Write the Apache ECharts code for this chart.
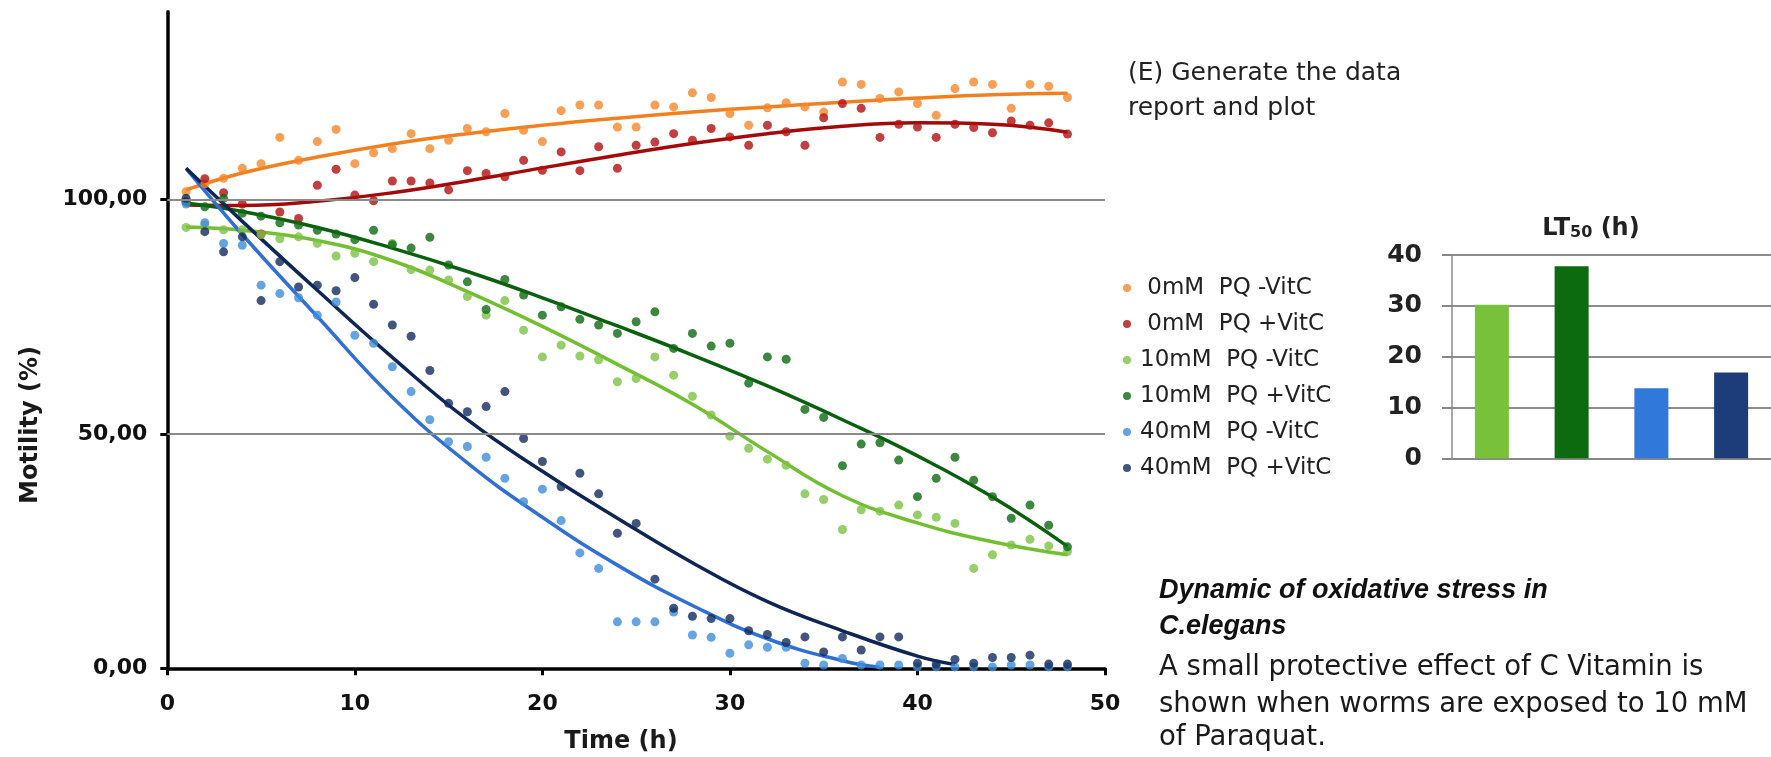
<!DOCTYPE html>
<html>
<head>
<meta charset="utf-8">
<script src="https://cdn.jsdelivr.net/npm/echarts@6/dist/echarts.min.js"></script>
<style>
html,body{margin:0;padding:0;background:#fff;}
#chart{width:1771px;height:757px;}
</style>
</head>
<body>
<div id="chart"></div>
<script>
// ---- data ----
const hours = [1,2,3,4,5,6,7,8,9,10,11,12,13,14,15,16,17,18,19,20,21,22,23,24,25,26,27,28,29,30,31,32,33,34,35,36,37,38,39,40,41,42,43,44,45,46,47,48];

const pq0Minus  = [101.6,103.3,104.5,106.6,107.6,113.2,108.3,112.3,114.9,107.6,109.9,110.8,114.0,110.8,112.6,115.1,114.4,118.3,114.7,112.3,118.9,120.1,120.1,115.4,115.4,120.1,119.7,122.7,121.7,118.3,115.8,119.5,120.6,119.7,118.6,125.0,124.5,121.5,122.9,120.4,117.9,123.6,125.0,124.5,119.4,124.5,124.1,121.7];
const pq0Plus   = [99.5,104.4,101.4,99.0,92.6,97.3,95.9,103.0,106.4,100.9,99.7,103.9,103.9,103.5,102.0,106.1,105.5,104.8,108.3,106.2,110.1,106.1,111.2,106.6,111.5,112.2,114.0,112.6,115.1,113.3,111.5,115.8,114.4,111.5,117.4,120.4,119.4,113.2,116.0,115.4,113.2,116.0,115.3,114.2,116.7,115.8,116.3,113.9];
const pq10Minus = [94.0,94.5,93.5,93.5,92.5,91.6,92.0,90.6,87.9,88.5,86.7,90.6,85.0,84.9,82.8,79.3,75.3,78.4,72.1,66.4,68.9,66.6,65.8,61.1,61.8,66.4,62.5,58.0,54.0,49.5,46.9,44.6,43.3,37.2,36.0,29.6,33.8,33.5,34.8,32.7,32.2,30.9,21.3,24.2,26.3,27.5,26.1,24.9];
const pq10Plus  = [99.5,98.4,100.2,97.0,96.4,95.0,94.5,93.4,92.6,91.4,93.4,90.3,89.6,91.9,86.0,82.4,76.5,82.9,79.6,75.3,77.1,74.4,73.2,71.4,73.9,76.0,68.2,71.4,68.7,69.3,60.8,66.4,65.9,55.2,53.5,43.2,47.8,48.1,44.4,36.6,40.5,45.0,40.1,36.6,32.0,34.8,30.5,25.9];
const pq40Minus = [99.0,95.0,90.6,90.2,81.7,79.9,79.0,75.3,78.1,71.0,69.3,64.3,59.0,53.0,48.3,47.3,45.0,40.5,35.5,38.2,31.5,24.6,21.3,9.9,9.9,9.9,12.0,7.1,6.6,3.2,5.0,4.5,4.5,1.1,0.7,2.1,0.7,0.7,0.7,0.3,0.3,0.3,0.3,0.3,0.7,0.7,0.3,0.3];
const pq40Plus  = [100.2,93.1,88.8,92.0,78.4,86.7,81.3,81.7,80.5,83.3,77.6,73.2,70.8,63.5,56.5,54.7,55.8,59.0,49.0,44.1,38.7,41.6,37.2,28.8,30.9,19.0,12.8,11.1,10.6,10.6,8.0,7.2,5.5,6.7,3.5,6.7,3.9,6.7,6.7,1.1,0.9,1.9,1.1,2.3,2.3,2.8,0.9,0.9];

// trend lines
const trendHours        = [1,4,8,12,16,20,24,28,32,36,40,44,48];
const trend0Minus       = [102.0,105.6,109.0,111.8,114.0,115.8,117.3,118.6,119.7,120.7,121.6,122.3,122.6];
const trend0Plus        = [98.8,98.7,99.6,101.4,103.9,106.7,109.4,111.9,114.0,115.6,116.3,116.0,114.3];
const trend10Minus      = [94.1,93.4,91.2,86.9,80.3,72.9,64.8,56.3,46.2,36.8,31.0,27.0,24.2];
const trend10Plus       = [99.2,97.4,94.0,89.6,84.6,79.0,73.0,66.8,60.2,53.0,45.3,36.5,26.0];
const trendHours40Minus = [1,4,8,12,16,20,24,28,32,36,38];
const trend40Minus      = [106.6,92.5,75.0,57.8,43.8,32.2,22.0,13.4,6.3,1.6,0.2];
const trendHours40Plus  = [1,4,8,12,16,20,24,28,32,36,40,42];
const trend40Plus       = [106.6,95.3,80.6,66.3,53.0,42.0,32.0,22.5,14.2,8.0,2.6,0.8];

const seriesNames = [' 0mM  PQ -VitC',' 0mM  PQ +VitC','10mM  PQ -VitC','10mM  PQ +VitC','40mM  PQ -VitC','40mM  PQ +VitC'];
const yTicks = [0, 50, 100];
const gridValues = [50, 100];

// LT50 bar chart
const ltCategories = ['10mM PQ -VitC','10mM PQ +VitC','40mM PQ -VitC','40mM PQ +VitC'];
const lt50Values = [30.2, 37.8, 13.8, 16.9];

// ---- styling ----
const dotColors  = ['#f5872a','#b30f0f','#7cc243','#0d6a12','#3f8ddb','#112b5e'];
const lineColors = ['#f2801f','#a50a0a','#72bf2f','#0a600d','#2f6fd6','#0e2656'];
const barColors  = ['#78c23b','#0b6b0e','#3079db','#1c3d7a'];
const FONT = 'DejaVu Sans';
const ARIAL = 'Liberation Sans';

function pairs(xs, ys){ return xs.map((x,i)=>[x, ys[i]]); }

const dotSets = [pq0Minus,pq0Plus,pq10Minus,pq10Plus,pq40Minus,pq40Plus];
const trendSets = [
  [trendHours,trend0Minus],[trendHours,trend0Plus],[trendHours,trend10Minus],
  [trendHours,trend10Plus],[trendHours40Minus,trend40Minus],[trendHours40Plus,trend40Plus]
];

const series = [];
series.push({
  type:'line', name:'grid', xAxisIndex:0, yAxisIndex:0, data:[], silent:true, z:1,
  markLine:{ silent:true, symbol:['none','none'], label:{show:false},
    lineStyle:{color:'#8a8a8a', width:2, type:'solid'},
    data: gridValues.map(v=>({yAxis:v})) }
});
trendSets.forEach((ts,i)=>{
  series.push({
    type:'line', name:'trend'+i, xAxisIndex:0, yAxisIndex:0,
    data: pairs(ts[0], ts[1]), smooth:0.45, showSymbol:false, symbol:'none',
    lineStyle:{color:lineColors[i], width:3.5}, z:2, silent:true, clip:true
  });
});
dotSets.forEach((d,i)=>{
  series.push({
    type:'scatter', name:seriesNames[i], xAxisIndex:0, yAxisIndex:0,
    data: pairs(hours, d), symbol:'circle', symbolSize:9,
    itemStyle:{color:dotColors[i]}, z:3
  });
});
series.push({
  type:'bar', name:'LT50', xAxisIndex:1, yAxisIndex:1, data: lt50Values, barWidth:34,
  itemStyle:{ color: p => barColors[p.dataIndex] }
});

function txt(x, y, text, size, extra){
  return Object.assign({type:'text', x:x, y:y,
    style:Object.assign({text:text, fontFamily:FONT, fontSize:size, fill:'#1a1a1a',
      align:'left', verticalAlign:'middle', textAlign:'left', textVerticalAlign:'middle'}, extra || {})});
}

const option = {
  animation:false,
  backgroundColor:'#ffffff',
  grid:[
    {left:167.3, top:11.7, right:666, bottom:88.7},
    {left:1452, top:255, right:-9, bottom:298.7}
  ],
  xAxis:[
    {type:'value', gridIndex:0, min:0, max:50, interval:10,
     axisLine:{show:true, lineStyle:{color:'#000', width:3.5}},
     axisTick:{show:true, inside:false, length:7, lineStyle:{color:'#000', width:3}},
     axisLabel:{margin:25, fontFamily:FONT, fontWeight:'bold', fontSize:22, color:'#111'},
     splitLine:{show:false}},
    {type:'category', gridIndex:1, data:ltCategories,
     axisLine:{show:true, lineStyle:{color:'#888', width:2}},
     axisTick:{show:false}, axisLabel:{show:false}, splitLine:{show:false}}
  ],
  yAxis:[
    {type:'value', gridIndex:0, min:0, max:140, interval:50,
     axisLine:{show:true, lineStyle:{color:'#000', width:3.5}},
     axisTick:{show:true, inside:false, length:7, customValues:yTicks, lineStyle:{color:'#000', width:3}},
     axisLabel:{margin:20, customValues:yTicks, fontFamily:FONT, fontWeight:'bold', fontSize:22, color:'#111',
       formatter: v => yTicks.indexOf(v) >= 0 ? v.toFixed(2).replace('.', ',') : ''},
     splitLine:{show:false}},
    {type:'value', gridIndex:1, min:0, max:40, interval:10,
     axisLine:{show:true, lineStyle:{color:'#888', width:1.5}},
     axisTick:{show:true, inside:false, length:10, lineStyle:{color:'#888', width:2}},
     axisLabel:{margin:30, fontFamily:FONT, fontWeight:'bold', fontSize:25, color:'#222'},
     splitLine:{show:true, lineStyle:{color:'#8c8c8c', width:2}}}
  ],
  legend:{
    orient:'vertical', left:1118, top:265, itemWidth:16, itemHeight:8, itemGap:0,
    icon:'circle', selectedMode:false,
    textStyle:{fontFamily:FONT, fontSize:23, color:'#222', lineHeight:36},
    data: seriesNames
  },
  graphic:[
    txt(31, 425, 'Motility (%)', 24, {fontWeight:'bold', align:'center', textAlign:'center'}),
    txt(621, 742, 'Time (h)', 24, {fontWeight:'bold', align:'center', textAlign:'center'}),
    txt(1128, 73, '(E) Generate the data', 25, {fill:'#222'}),
    txt(1128, 108, 'report and plot', 25, {fill:'#222'}),
    {type:'text', x:1591, y:227,
     style:{text:'{a|LT}{b|50}{a| (h)}', fill:'#222', align:'center', verticalAlign:'middle',
            textAlign:'center', textVerticalAlign:'middle',
            rich:{a:{fontFamily:FONT, fontWeight:'bold', fontSize:24, lineHeight:28, verticalAlign:'bottom'},
                  b:{fontFamily:FONT, fontWeight:'bold', fontSize:16, lineHeight:16, verticalAlign:'bottom'}}}},
    txt(1159, 591, 'Dynamic of oxidative stress in', 27, {fontFamily:ARIAL, fontWeight:'bold', fontStyle:'italic', fill:'#111'}),
    txt(1159, 627, 'C.elegans', 27, {fontFamily:ARIAL, fontWeight:'bold', fontStyle:'italic', fill:'#111'}),
    txt(1159, 668, 'A small protective effect of C Vitamin is', 27.5),
    txt(1159, 705, 'shown when worms are exposed to 10 mM', 27.5),
    txt(1159, 738, 'of Paraquat.', 27.5)
  ],
  series: series
};
option.graphic[0].rotation = Math.PI / 2;

const chart = echarts.init(document.getElementById('chart'), null, {renderer:'canvas'});
chart.setOption(option);
</script>
</body>
</html>
